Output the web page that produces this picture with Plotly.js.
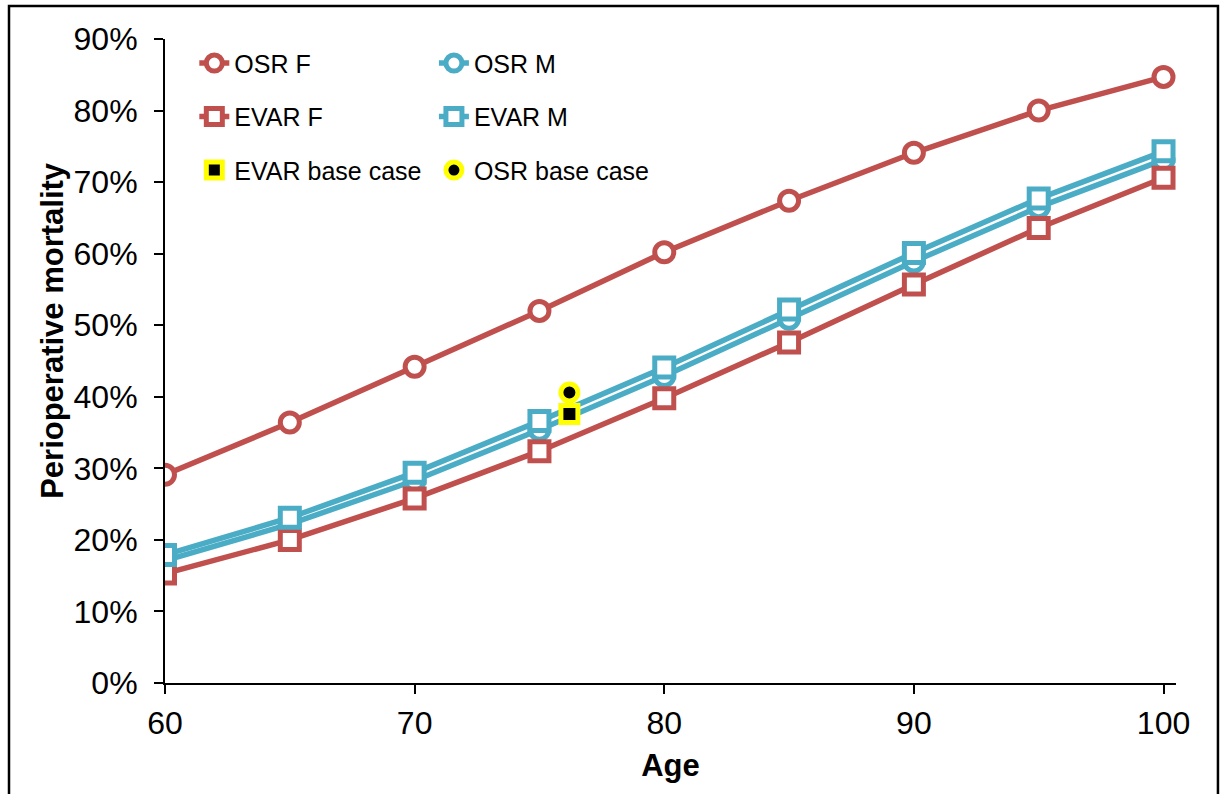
<!DOCTYPE html>
<html>
<head>
<meta charset="utf-8">
<script src="https://cdn.plot.ly/plotly-3.0.1.min.js"></script>
<style>html,body{margin:0;padding:0;background:#fff;}#chart{width:1224px;height:794px;}</style>
</head>
<body>
<div id="chart"></div>
<script>
const ages = [60, 65, 70, 75, 80, 85, 90, 95, 100];
const osrF = [0.291, 0.364, 0.442, 0.520, 0.602, 0.674, 0.741, 0.800, 0.847];
const osrM = [0.171, 0.222, 0.283, 0.354, 0.429, 0.509, 0.589, 0.665, 0.731];
const evarF = [0.153, 0.200, 0.258, 0.324, 0.398, 0.476, 0.557, 0.636, 0.706];
const evarM = [0.179, 0.231, 0.294, 0.366, 0.441, 0.522, 0.601, 0.677, 0.743];
const baseAge = [76.2];
const evarBase = [0.376];
const osrBase = [0.406];
const yTicks = [0, 0.1, 0.2, 0.3, 0.4, 0.5, 0.6, 0.7, 0.8, 0.9];
const xTicks = [60, 70, 80, 90, 100];

const RED = '#C0504D', CYAN = '#4BACC6';
const FONT = 'Liberation Sans, Arial, sans-serif';

function series(name, y, color, symbol, legend, group) {
  return {
    x: ages, y: y, name: name, type: 'scatter', mode: 'lines+markers',
    line: {color: color, width: 5.5},
    marker: {symbol: symbol, size: 19, color: '#fff', line: {color: color, width: 5}},
    legend: legend, legendgroup: group, hoverinfo: 'skip'
  };
}

const data = [
  series('OSR F', osrF, RED, 'circle', 'legend', 'g1'),
  series('OSR M', osrM, CYAN, 'circle', 'legend2', 'g2'),
  series('EVAR F', evarF, RED, 'square', 'legend', 'g3'),
  series('EVAR M', evarM, CYAN, 'square', 'legend2', 'g4'),
  {x: baseAge, y: evarBase, name: 'EVAR base case', type: 'scatter', mode: 'markers',
   marker: {symbol: 'square', size: 17, color: '#000', line: {color: '#FFFF00', width: 5}},
   legend: 'legend', legendgroup: 'g5', hoverinfo: 'skip'},
  {x: baseAge, y: osrBase, name: 'OSR base case', type: 'scatter', mode: 'markers',
   marker: {symbol: 'circle', size: 17, color: '#000', line: {color: '#FFFF00', width: 5}},
   legend: 'legend2', legendgroup: 'g6', hoverinfo: 'skip'}
];

const legendCommon = {
  xanchor: 'left', yanchor: 'top', bgcolor: 'rgba(0,0,0,0)',
  font: {family: FONT, size: 25, color: '#000'}, tracegroupgap: 18, itemwidth: 30
};

const layout = {
  width: 1224, height: 794,
  margin: {l: 165, r: 48, t: 39, b: 111},
  paper_bgcolor: '#fff', plot_bgcolor: '#fff',
  font: {family: FONT, color: '#000'},
  hovermode: false,
  xaxis: {
    range: [60, 100.5], tickvals: xTicks, ticktext: xTicks.map(String),
    showgrid: false, zeroline: false, showline: true, linecolor: '#000', linewidth: 2,
    ticks: 'outside', ticklen: 9, tickwidth: 2, tickcolor: '#000',
    ticklabelstandoff: 2,
    tickfont: {family: FONT, size: 32, color: '#000'},
    title: {text: 'Age', font: {family: FONT, size: 31, color: '#000', weight: 'bold'}, standoff: 14}
  },
  yaxis: {
    range: [0, 0.9], tickvals: yTicks, ticktext: yTicks.map(v => Math.round(v * 100) + '%'),
    showgrid: false, zeroline: false, showline: true, linecolor: '#000', linewidth: 2,
    ticks: 'outside', ticklen: 9, tickwidth: 2, tickcolor: '#000',
    ticklabelstandoff: 10,
    tickfont: {family: FONT, size: 32, color: '#000'}
  },
  legend: Object.assign({x: 0.029, y: 0.998}, legendCommon),
  legend2: Object.assign({x: 0.266, y: 0.998}, legendCommon),
  annotations: [{
    text: '<b>Perioperative mortality</b>', xref: 'paper', yref: 'paper',
    x: -0.112, y: 0.548, xanchor: 'center', yanchor: 'middle', textangle: -90,
    showarrow: false, font: {family: FONT, size: 31, color: '#000'}
  }],
  shapes: [{
    type: 'rect', xref: 'paper', yref: 'paper',
    x0: -0.1543, x1: 1.0415, y0: -0.2, y1: 1.0512,
    line: {color: '#000', width: 2.5}, fillcolor: 'rgba(0,0,0,0)'
  }]
};

Plotly.newPlot('chart', data, layout, {staticPlot: true, displayModeBar: false});
</script>
</body>
</html>
